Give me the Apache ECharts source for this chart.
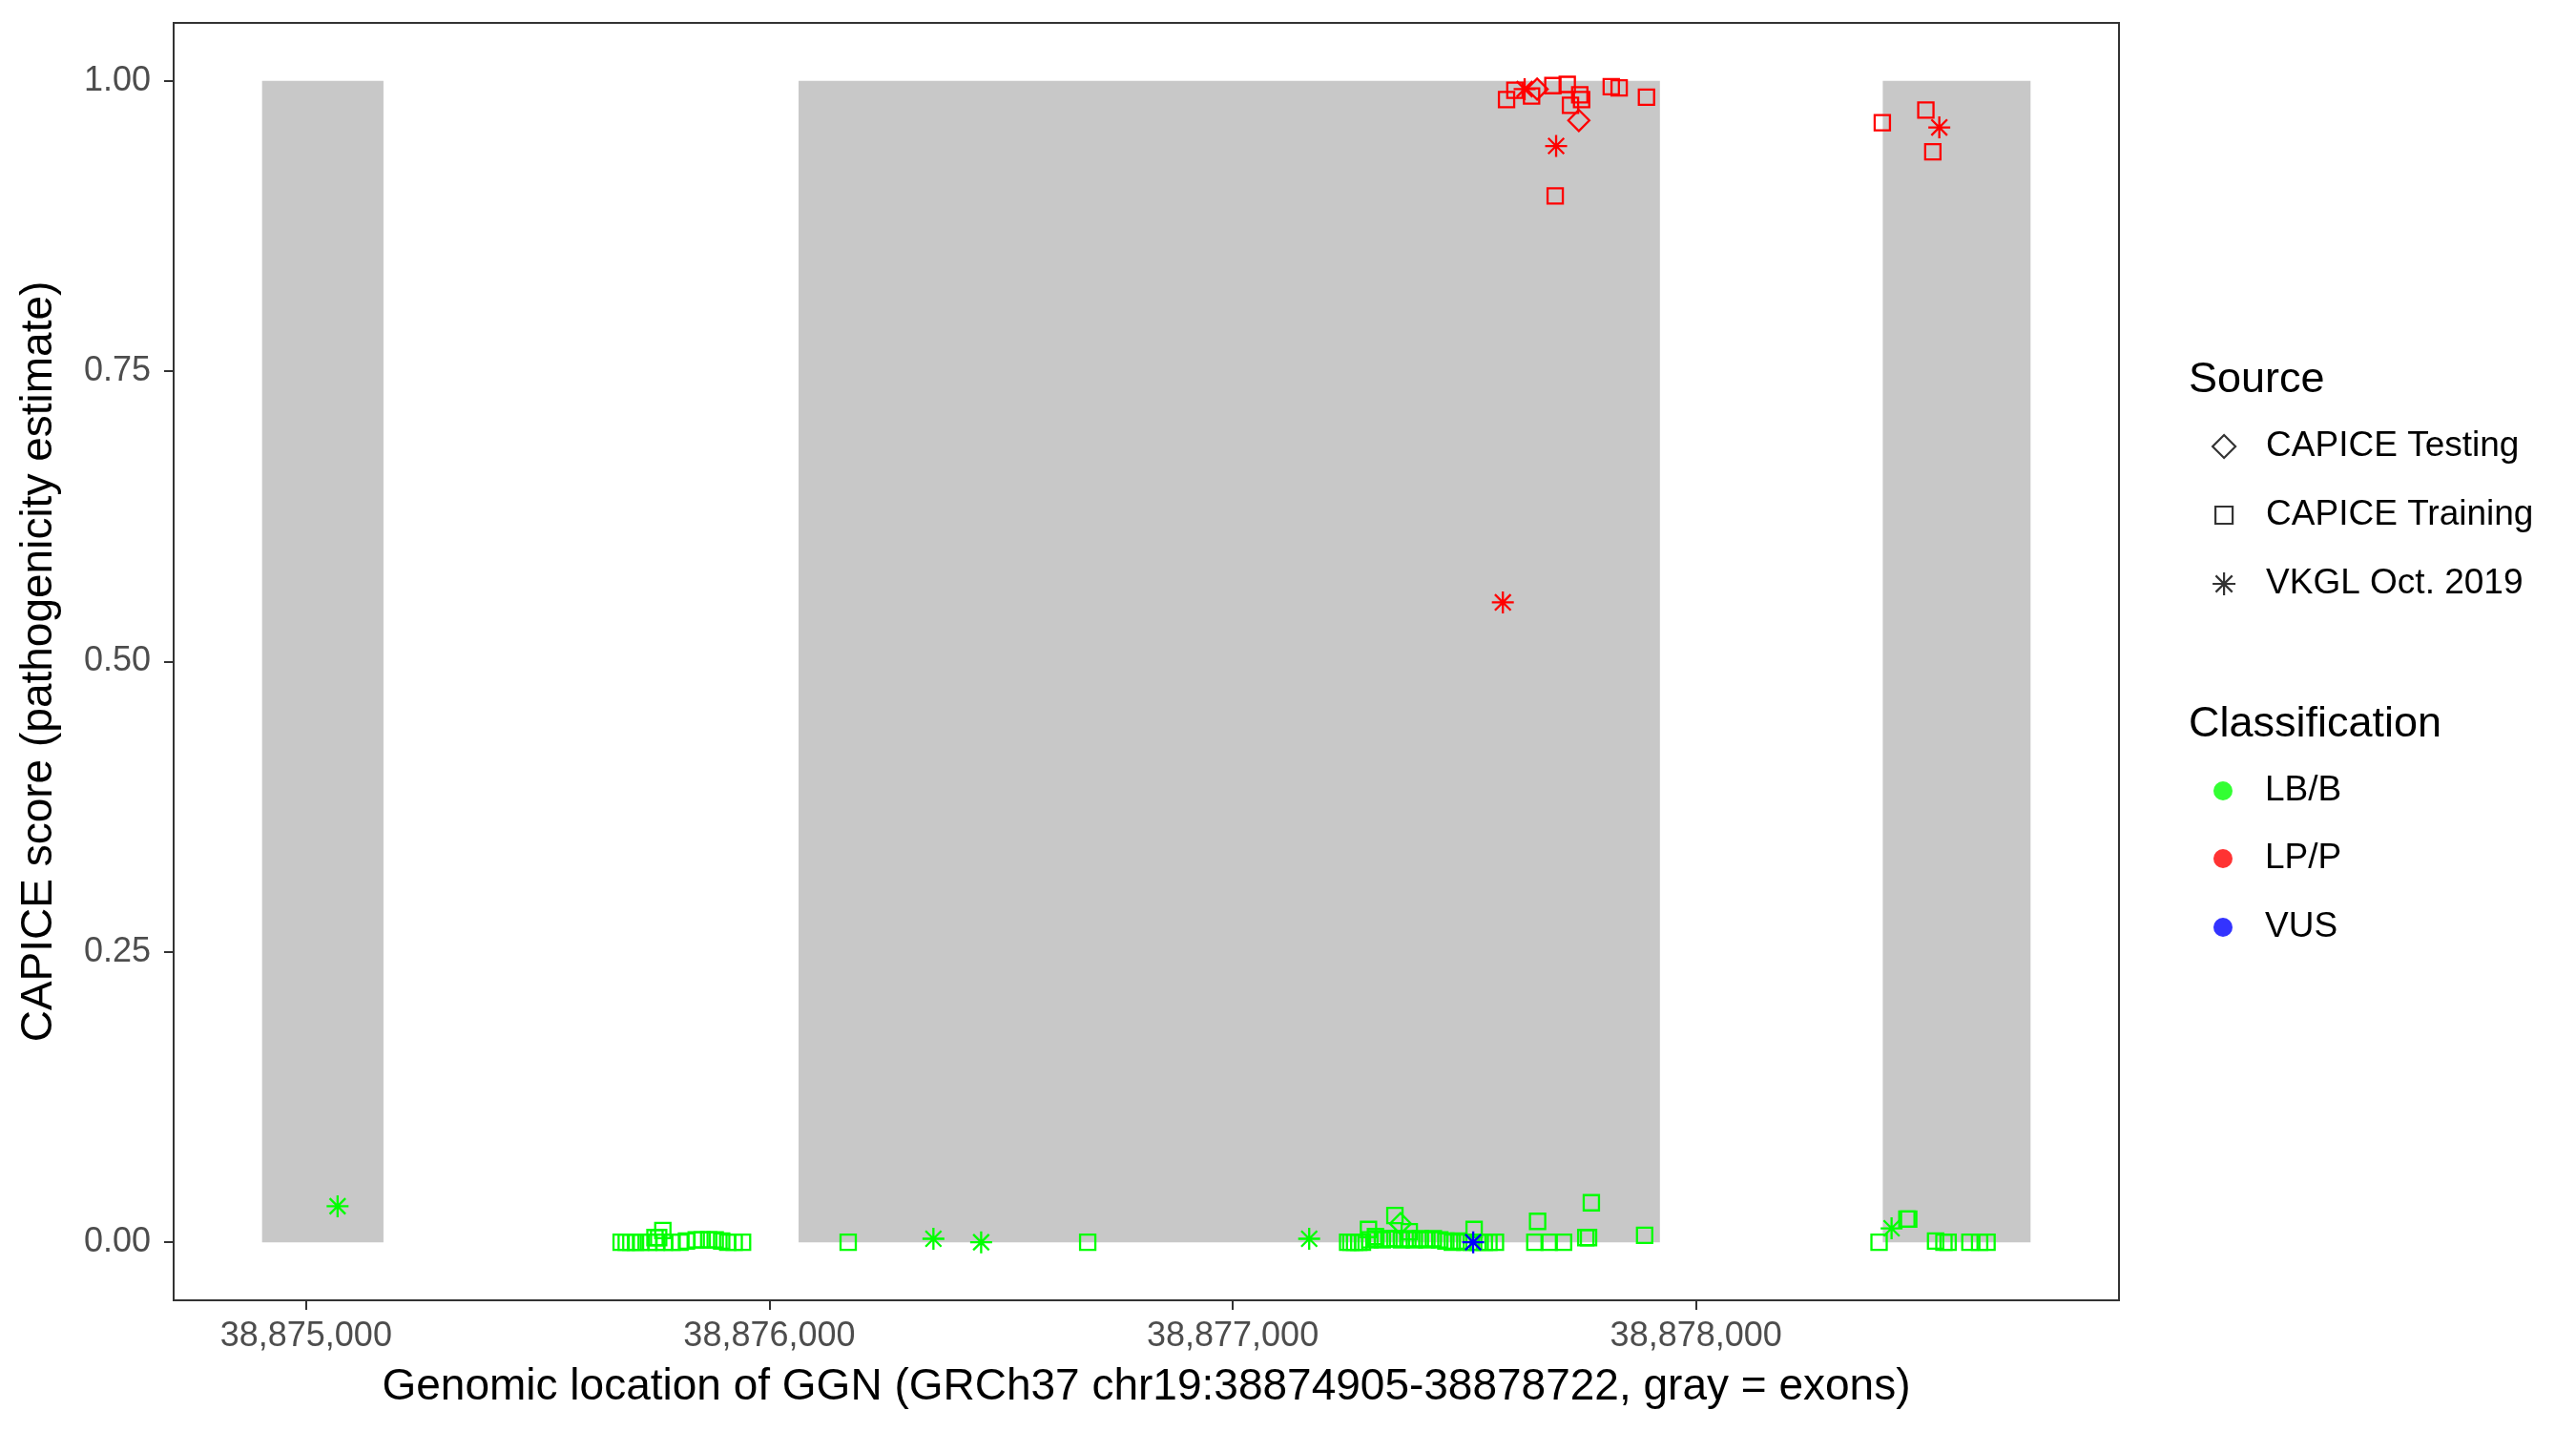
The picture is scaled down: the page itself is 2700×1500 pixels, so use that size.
<!DOCTYPE html>
<html><head><meta charset="utf-8">
<script src="https://cdn.jsdelivr.net/npm/echarts@6/dist/echarts.min.js"></script>
<style>html,body{margin:0;padding:0;background:#fff}#c{width:2700px;height:1500px}</style>
</head><body><div id="c"></div>
<script>
// ---- data ----
const exons = [[38874905, 38875167], [38876063, 38877922], [38878403, 38878722]];
const xTicks = [38875000, 38876000, 38877000, 38878000];
const yTicks = [0, 0.25, 0.5, 0.75, 1];
const xMin = 38874714.15, xMax = 38878912.85;

const testingLB = [[38877362, 0.016]];
const testingLP = [[38877657, 0.993], [38877747, 0.966]];
const trainingLB = [
  [38875680,0],[38875691,0],[38875701,0],[38875711,0],[38875722,0],[38875739,0],[38875756,0],[38875773,0],
  [38875790,0],[38875807,0],[38875821,0.001],[38875842,0.002],[38875855,0.002],[38875869,0.002],[38875883,0.002],
  [38875897,0.001],[38875910,0],[38875924,0],[38875942,0],[38875753,0.004],[38875761,0.004],[38875770,0.010],
  [38876170,0],[38876687,0],
  [38877248,0],[38877255,0],[38877263,0],[38877272,0],[38877280,0],[38877296,0.002],[38877309,0.003],[38877323,0.002],
  [38877337,0.003],[38877350,0.003],[38877364,0.002],[38877378,0.003],[38877392,0.002],[38877405,0.003],[38877419,0.002],
  [38877433,0.003],[38877447,0.002],[38877460,0.001],[38877474,0],[38877488,0.001],[38877501,0],[38877515,0],
  [38877529,0],[38877543,0],[38877553,0],[38877567,0],[38877293,0.011],[38877308,0.005],[38877350,0.023],
  [38877381,0.009],[38877521,0.011],
  [38877652,0],[38877683,0],[38877714,0],[38877658,0.018],[38877762,0.004],[38877768,0.004],[38877774,0.034],
  [38877889,0.006],
  [38878395,0],[38878455,0.020],[38878459,0.020],[38878517,0.001],[38878535,0],[38878544,0],[38878591,0],
  [38878612,0],[38878628,0]
];
const trainingLP = [
  [38877591,0.984],[38877609,0.992],[38877645,0.987],[38877691,0.996],[38877722,0.997],[38877729,0.979],
  [38877749,0.988],[38877753,0.984],[38877696,0.901],[38877817,0.995],[38877834,0.994],[38877893,0.986],
  [38878402,0.964],[38878496,0.975],[38878511,0.939]
];
const vkglLB = [[38875068,0.031],[38876354,0.003],[38876457,0],[38877165,0.003],[38878422,0.012]];
const vkglLP = [[38877630,0.993],[38877698,0.944],[38877583,0.551],[38878525,0.960]];
const vkglVUS = [[38877519,0]];

// ---- styles ----
const FONT = 'Liberation Sans';
const COL = { 'LB/B': '#00FF00', 'LP/P': '#FF0000', 'VUS': '#0000FF' };
const DIAMOND = 'path://M0,-1L1,0L0,1L-1,0Z';
const STAR = 'path://M0,-1L0,1M-1,0L1,0M-0.72,-0.72L0.72,0.72M-0.72,0.72L0.72,-0.72';
const SHAPES = {
  'CAPICE Testing': { symbol: DIAMOND, size: 22 },
  'CAPICE Training': { symbol: 'rect', size: 16 },
  'VKGL Oct. 2019': { symbol: STAR, size: 23 }
};

function pts(name, source, cls, data) {
  const s = SHAPES[source];
  return {
    name, type: 'scatter', data, z: 3,
    symbol: s.symbol, symbolSize: s.size,
    itemStyle: { color: 'transparent', borderColor: COL[cls], borderWidth: 2.3, opacity: 1 },
    emphasis: { disabled: true }, silent: true
  };
}

const series = [
  {
    name: 'exons', type: 'custom', data: exons, z: 1, silent: true,
    encode: { x: [0, 1] },
    renderItem: function (params, api) {
      const p0 = api.coord([api.value(0), 1]);
      const p1 = api.coord([api.value(1), 0]);
      return { type: 'rect', shape: { x: p0[0], y: p0[1], width: p1[0] - p0[0], height: p1[1] - p0[1] },
               style: { fill: '#C8C8C8' } };
    }
  },
  pts('tr-LB', 'CAPICE Training', 'LB/B', trainingLB),
  pts('tr-LP', 'CAPICE Training', 'LP/P', trainingLP),
  pts('te-LB', 'CAPICE Testing', 'LB/B', testingLB),
  pts('te-LP', 'CAPICE Testing', 'LP/P', testingLP),
  pts('vk-LB', 'VKGL Oct. 2019', 'LB/B', vkglLB),
  pts('vk-LP', 'VKGL Oct. 2019', 'LP/P', vkglLP),
  pts('vk-VUS', 'VKGL Oct. 2019', 'VUS', vkglVUS),
  // legend-only series
  { name: 'CAPICE Testing', type: 'scatter', data: [], symbol: DIAMOND, itemStyle: { color: 'transparent', borderColor: '#000', borderWidth: 2.2 } },
  { name: 'CAPICE Training', type: 'scatter', data: [], symbol: 'rect', itemStyle: { color: 'transparent', borderColor: '#000', borderWidth: 2.2 } },
  { name: 'VKGL Oct. 2019', type: 'scatter', data: [], symbol: STAR, itemStyle: { color: 'transparent', borderColor: '#000', borderWidth: 2.2 } },
  { name: 'LB/B', type: 'scatter', data: [], symbol: 'circle', itemStyle: { color: COL['LB/B'] } },
  { name: 'LP/P', type: 'scatter', data: [], symbol: 'circle', itemStyle: { color: COL['LP/P'] } },
  { name: 'VUS', type: 'scatter', data: [], symbol: 'circle', itemStyle: { color: COL['VUS'] } }
];

function legendItem(name, centerY, iconSize, icon, style) {
  const symCenterX = 2330, textLeft = 2374;
  const left = symCenterX - iconSize / 2;
  return {
    data: [{ name, icon, itemStyle: style }],
    left, top: centerY - 20, padding: 0, orient: 'vertical',
    itemWidth: iconSize, itemHeight: iconSize, selectedMode: false,
    textStyle: { fontFamily: FONT, fontSize: 37, color: '#000', lineHeight: 40,
                 padding: [0, 0, 0, textLeft - (left + iconSize + 5)] }
  };
}
const blackOutline = { color: 'transparent', borderColor: '#000', borderWidth: 2.2 };

const option = {
  animation: false,
  backgroundColor: '#fff',
  grid: { left: 182, right: 479, top: 24, bottom: 137, show: true, borderColor: '#333333', borderWidth: 2, backgroundColor: 'transparent' },
  title: [
    { text: 'Source', left: 2294, top: 374, padding: 0, textStyle: { fontFamily: FONT, fontSize: 45, fontWeight: 'normal', color: '#000', lineHeight: 50 } },
    { text: 'Classification', left: 2294, top: 735, padding: 0, textStyle: { fontFamily: FONT, fontSize: 45, fontWeight: 'normal', color: '#000', lineHeight: 50 } }
  ],
  legend: [
    legendItem('CAPICE Testing', 468, 24, DIAMOND, blackOutline),
    legendItem('CAPICE Training', 540, 18, 'rect', blackOutline),
    legendItem('VKGL Oct. 2019', 612, 24, STAR, blackOutline),
    legendItem('LB/B', 829, 20, 'circle', { color: COL['LB/B'] }),
    legendItem('LP/P', 900, 20, 'circle', { color: COL['LP/P'] }),
    legendItem('VUS', 972, 20, 'circle', { color: COL['VUS'] })
  ],
  xAxis: {
    type: 'value', min: xMin, max: xMax,
    name: 'Genomic location of GGN (GRCh37 chr19:38874905-38878722, gray = exons)',
    nameLocation: 'middle', nameGap: 68,
    nameTextStyle: { fontFamily: FONT, fontSize: 46, color: '#000' },
    axisLine: { show: true, onZero: false, lineStyle: { color: '#333333', width: 2 } },
    axisTick: { show: true, length: 10, lineStyle: { color: '#333333', width: 2 }, customValues: xTicks },
    axisLabel: { customValues: xTicks, margin: 20, fontFamily: FONT, fontSize: 36, color: '#4D4D4D',
                 formatter: v => Number(v).toLocaleString('en-US') },
    splitLine: { show: false }
  },
  yAxis: {
    type: 'value', min: -0.05, max: 1.05,
    name: 'CAPICE score (pathogenicity estimate)',
    nameLocation: 'middle', nameGap: 118,
    nameTextStyle: { fontFamily: FONT, fontSize: 46, color: '#000' },
    axisLine: { show: true, onZero: false, lineStyle: { color: '#333333', width: 2 } },
    axisTick: { show: true, length: 10, lineStyle: { color: '#333333', width: 2 }, customValues: yTicks },
    axisLabel: { customValues: yTicks, margin: 24, fontFamily: FONT, fontSize: 36, color: '#4D4D4D',
                 formatter: v => Number(v).toFixed(2) },
    splitLine: { show: false }
  },
  tooltip: { show: false },
  series
};

const chart = echarts.init(document.getElementById('c'), null, { renderer: 'canvas' });
chart.setOption(option);
</script>
</body></html>
